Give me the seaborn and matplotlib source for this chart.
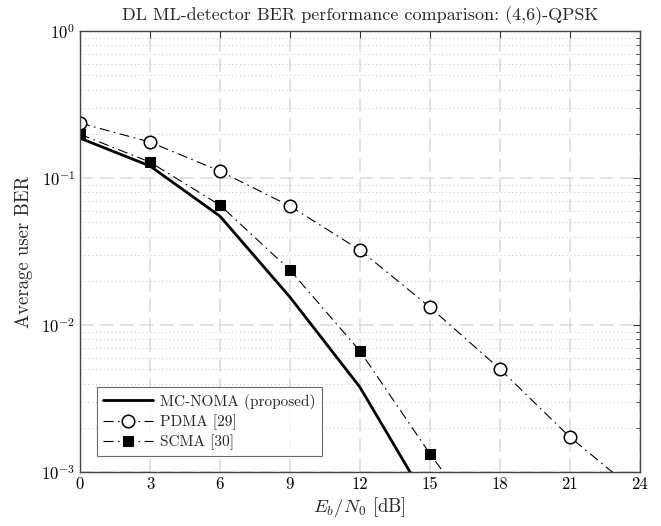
import numpy as np
import pandas as pd
import matplotlib
matplotlib.use("Agg")
import matplotlib.pyplot as plt
import seaborn as sns
from matplotlib.ticker import LogLocator, NullFormatter, FixedLocator

# Eb/N0 grid in dB
ebn0 = [0, 3, 6, 9, 12, 15, 18, 21, 24]

# Average user BER per scheme
ber_mcnoma = [0.187, 0.121, 0.0551, 0.0155, 0.00378, 0.00059]
ber_pdma = [0.237, 0.176, 0.1116, 0.0645, 0.0324, 0.01324, 0.00502, 0.00173, 0.00070]
ber_scma = [0.199, 0.1285, 0.0655, 0.0237, 0.00666, 0.00133, 0.00030]

labels = ["MC-NOMA (proposed)", "PDMA [29]", "SCMA [30]"]
x_ticks = [0, 3, 6, 9, 12, 15, 18, 21, 24]

sns.set_style("white")
plt.rcParams["font.family"] = ["cmr10", "DejaVu Serif"]
plt.rcParams["mathtext.fontset"] = "cm"
plt.rcParams["axes.unicode_minus"] = False
plt.rcParams["axes.formatter.use_mathtext"] = True

fig = plt.figure(figsize=(6.61, 5.26), dpi=100)
ax = fig.add_axes([0.121, 0.1027, 0.847, 0.838])

frames = []
for name, ys in zip(labels, [ber_mcnoma, ber_pdma, ber_scma]):
    frames.append(pd.DataFrame({"ebn0": ebn0[:len(ys)], "ber": ys, "scheme": name}))
df = pd.concat(frames, ignore_index=True)

dashdot = (0, (9, 4, 1.5, 4))
sns.lineplot(data=df[df.scheme == labels[0]], x="ebn0", y="ber", ax=ax,
             color="black", lw=2.0, label=labels[0])
sns.lineplot(data=df[df.scheme == labels[1]], x="ebn0", y="ber", ax=ax,
             color="black", lw=0.8, linestyle=dashdot, marker="o", markersize=9,
             markerfacecolor="white", markeredgecolor="black", markeredgewidth=1.1,
             label=labels[1])
sns.lineplot(data=df[df.scheme == labels[2]], x="ebn0", y="ber", ax=ax,
             color="black", lw=0.8, linestyle=dashdot, marker="s", markersize=7,
             markerfacecolor="black", markeredgecolor="black", label=labels[2])

ax.set_yscale("log")
ax.set_xlim(0, 24)
ax.set_ylim(1e-3, 1)
ax.xaxis.set_major_locator(FixedLocator(x_ticks))
ax.set_xticklabels([str(t) for t in x_ticks])
ax.yaxis.set_major_locator(LogLocator(base=10, numticks=10))
ax.yaxis.set_minor_locator(LogLocator(base=10, subs=np.arange(2, 10), numticks=20))
ax.yaxis.set_minor_formatter(NullFormatter())

ax.grid(which="major", axis="both", color="#dddddd", linestyle=(0, (8, 4)), lw=1.2)
ax.grid(which="minor", axis="y", color="#c4c4c4", linestyle=(0, (1, 3)), lw=0.7)
ax.set_axisbelow(True)

ax.tick_params(which="both", direction="in", top=True, right=True, colors="#333333",
               labelcolor="black", labelsize=12)
ax.tick_params(which="major", length=5, width=0.8)
ax.tick_params(which="minor", length=3, width=0.6)
for s in ax.spines.values():
    s.set_color("#444444")
    s.set_linewidth(1.0)

ax.set_title("DL ML-detector BER performance comparison: (4,6)-QPSK", fontsize=13, pad=8)
ax.set_xlabel("$E_b/N_0$ [dB]", fontsize=13.5, labelpad=2)
ax.set_ylabel("Average user BER", fontsize=13.5, labelpad=6)

leg = ax.legend(loc="lower left", bbox_to_anchor=(0.030, 0.036), fontsize=11,
                frameon=True, fancybox=False, edgecolor="#444444", handlelength=3.3,
                borderpad=0.4, labelspacing=0.3, handletextpad=0.45, borderaxespad=0)
leg.get_frame().set_linewidth(0.8)

fig.savefig("out.png", dpi=100, facecolor="white")
